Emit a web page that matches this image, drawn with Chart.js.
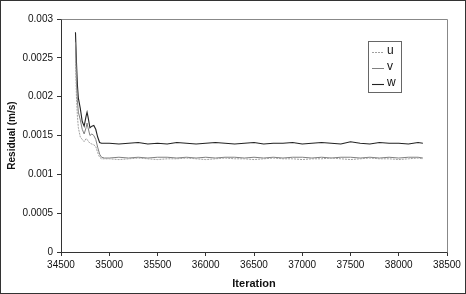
<!DOCTYPE html>
<html lang="en">
  <head>
    <meta charset="UTF-8" />
    <title>Residual vs Iteration</title>
    <style>
      html, body { margin: 0; padding: 0; background: #fff; }
      #wrap { width: 466px; height: 294px; }
    </style>
  </head>
  <body>
    <div id="wrap"><canvas id="resChart" width="466" height="294"></canvas></div>
    <script src="https://cdn.jsdelivr.net/npm/chart.js"></script>
    <script>
      // iteration numbers (x)
      const iterations = [
        34650, 34660, 34670, 34680, 34700, 34720, 34740, 34760, 34770, 34780,
        34800, 34820, 34840, 34860, 34880, 34900, 34920, 34950,
        35000, 35100, 35200, 35300, 35400, 35500, 35600, 35700, 35800, 35900,
        36000, 36100, 36200, 36300, 36400, 36500, 36600, 36700, 36800, 36900,
        37000, 37100, 37200, 37300, 37400, 37500, 37600, 37700, 37800, 37900,
        38000, 38100, 38200, 38250
      ];
      // residuals
      const uVals = [
        0.00250, 0.00200, 0.00175, 0.00160, 0.00148, 0.00145, 0.00142, 0.00146, 0.00145, 0.00143,
        0.00140, 0.00139, 0.00138, 0.00136, 0.00128, 0.00122, 0.00120, 0.00120,
        0.00120, 0.00119, 0.00120, 0.00121, 0.00120, 0.00119, 0.00120, 0.00120, 0.00121, 0.00120,
        0.00119, 0.00120, 0.00121, 0.00120, 0.00120, 0.00119, 0.00120, 0.00121, 0.00120, 0.00120,
        0.00119, 0.00120, 0.00120, 0.00121, 0.00120, 0.00119, 0.00120, 0.00121, 0.00120, 0.00120,
        0.00119, 0.00120, 0.00121, 0.00120
      ];
      const vVals = [
        0.00270, 0.00220, 0.00195, 0.00180, 0.00170, 0.00158, 0.00152, 0.00160, 0.00166, 0.00160,
        0.00150, 0.00152, 0.00150, 0.00145, 0.00135, 0.00126, 0.00122, 0.00121,
        0.00121, 0.00122, 0.00121, 0.00122, 0.00121, 0.00122, 0.00122, 0.00121, 0.00122, 0.00121,
        0.00122, 0.00121, 0.00122, 0.00122, 0.00121, 0.00122, 0.00121, 0.00122, 0.00121, 0.00122,
        0.00122, 0.00121, 0.00122, 0.00121, 0.00122, 0.00122, 0.00121, 0.00122, 0.00121, 0.00122,
        0.00121, 0.00122, 0.00122, 0.00121
      ];
      const wVals = [
        0.00283, 0.00245, 0.00215, 0.00198, 0.00185, 0.00168, 0.00162, 0.00175, 0.00180, 0.00174,
        0.00160, 0.00162, 0.00163, 0.00158, 0.00148, 0.00141, 0.00140, 0.00140,
        0.00140, 0.00139, 0.00140, 0.00141, 0.00139, 0.00140, 0.00139, 0.00141, 0.00140, 0.00139,
        0.00140, 0.00141, 0.00140, 0.00139, 0.00140, 0.00141, 0.00139, 0.00140, 0.00140, 0.00141,
        0.00139, 0.00140, 0.00141, 0.00140, 0.00139, 0.00142, 0.00140, 0.00139, 0.00141, 0.00140,
        0.00140, 0.00139, 0.00141, 0.00140
      ];
      const seriesNames = ["u", "v", "w"];
      const xTicks = [34500, 35000, 35500, 36000, 36500, 37000, 37500, 38000, 38500];
      const yTicks = [0, 0.0005, 0.001, 0.0015, 0.002, 0.0025, 0.003];

      const toPoints = (vals) => vals.map((v, i) => ({ x: iterations[i], y: v }));
      const font = { family: "'Liberation Sans', Arial, sans-serif", size: 10 };

      // white background, outer frame, plot box and legend box
      const framePlugin = {
        id: "frame",
        beforeDraw(chart) {
          const ctx = chart.ctx;
          ctx.save();
          ctx.fillStyle = "#fff";
          ctx.fillRect(0, 0, chart.width, chart.height);
          ctx.strokeStyle = "#333";
          ctx.lineWidth = 1;
          ctx.strokeRect(0.5, 0.5, chart.width - 1, chart.height - 1);
          ctx.restore();
        },
        afterDatasetsDraw(chart) {
          const ctx = chart.ctx;
          const a = chart.chartArea;
          ctx.save();
          ctx.strokeStyle = "#888";
          ctx.lineWidth = 1;
          ctx.beginPath();
          ctx.moveTo(Math.round(a.left) + 0.5, Math.round(a.top) + 0.5);
          ctx.lineTo(Math.round(a.right) + 0.5, Math.round(a.top) + 0.5);
          ctx.lineTo(Math.round(a.right) + 0.5, Math.round(a.bottom) + 0.5);
          ctx.stroke();
          // legend
          const lx = 368, ly = 41, lw = 33, lh = 51;
          ctx.strokeStyle = "#666";
          ctx.strokeRect(lx + 0.5, ly + 0.5, lw, lh);
          ctx.font = "12px 'Liberation Sans', Arial, sans-serif";
          ctx.textBaseline = "middle";
          chart.data.datasets.forEach((ds, i) => {
            const y = ly + 11 + i * 16;
            ctx.strokeStyle = ds.borderColor;
            ctx.lineWidth = ds.borderWidth;
            ctx.setLineDash(ds.borderDash || []);
            ctx.beginPath();
            ctx.moveTo(lx + 4, y + 0.5);
            ctx.lineTo(lx + 16, y + 0.5);
            ctx.stroke();
            ctx.setLineDash([]);
            ctx.fillStyle = "#111";
            ctx.fillText(ds.label, lx + 19, y - 1);
          });
          ctx.restore();
        }
      };

      new Chart(document.getElementById("resChart"), {
        type: "line",
        data: {
          datasets: [
            { label: seriesNames[0], data: toPoints(uVals), borderColor: "#a0a0a0", borderWidth: 1, borderDash: [2, 1] },
            { label: seriesNames[1], data: toPoints(vVals), borderColor: "#808080", borderWidth: 1 },
            { label: seriesNames[2], data: toPoints(wVals), borderColor: "#222", borderWidth: 1.1 }
          ]
        },
        options: {
          responsive: false,
          animation: false,
          layout: { padding: { left: 0, top: 19, right: 19, bottom: 0 } },
          elements: { point: { radius: 0 }, line: { tension: 0 } },
          plugins: { legend: { display: false }, tooltip: { enabled: false } },
          scales: {
            x: {
              type: "linear",
              min: 34500,
              max: 38500,
              afterBuildTicks: (s) => { s.ticks = xTicks.map((v) => ({ value: v })); },
              afterFit: (s) => { s.height = 42; },
              grid: { drawOnChartArea: false, tickLength: 4, color: "#333" },
              border: { color: "#333" },
              ticks: { font, color: "#111", maxRotation: 0, padding: 3, callback: (v) => String(v) },
              title: { display: true, text: "Iteration", font: { ...font, size: 11, weight: "bold" }, color: "#111", padding: { top: 2, bottom: 3 } }
            },
            y: {
              min: 0,
              max: 0.003,
              afterBuildTicks: (s) => { s.ticks = yTicks.map((v) => ({ value: v })); },
              afterFit: (s) => { s.width = 61; },
              grid: { drawOnChartArea: false, tickLength: 4, color: "#333" },
              border: { color: "#333" },
              ticks: { font, color: "#111", padding: 4, callback: (v) => String(Number(v.toFixed(4))) },
              title: { display: true, text: "Residual (m/s)", font: { ...font, size: 10, weight: "bold" }, color: "#111", padding: { top: 6, bottom: 0 } }
            }
          }
        },
        plugins: [framePlugin]
      });
    </script>
  </body>
</html>
